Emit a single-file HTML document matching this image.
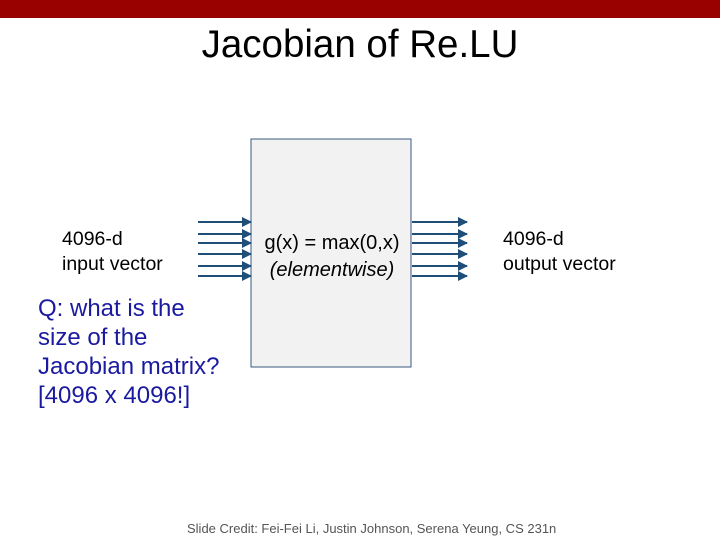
<!DOCTYPE html>
<html><head><style>
body{margin:0;width:720px;height:540px;background:#fff;position:relative;overflow:hidden;font-family:"Liberation Sans",sans-serif;}
.t{position:absolute;white-space:nowrap;color:#000;}
</style></head><body>
<div style="position:absolute;left:0;top:0;width:720px;height:18px;background:#990000"></div>
<div class="t" style="left:0;width:720px;text-align:center;top:23px;font-size:38.5px">Jacobian of Re.LU</div>
<svg style="position:absolute;left:0;top:0" width="720" height="540">
<defs><marker id="a" markerWidth="10" markerHeight="10" refX="9" refY="5" orient="auto" markerUnits="userSpaceOnUse"><path d="M0,0 L10,5 L0,10 z" fill="#1f4e79"/></marker></defs>
<rect x="251" y="139" width="160" height="228" fill="#f2f2f2" stroke="#3a5a7f" stroke-width="1"/>
<g stroke="#1f4e79" stroke-width="2" marker-end="url(#a)">
<line x1="198" y1="222" x2="251" y2="222"/><line x1="198" y1="234" x2="251" y2="234"/><line x1="198" y1="243" x2="251" y2="243"/><line x1="198" y1="254" x2="251" y2="254"/><line x1="198" y1="266" x2="251" y2="266"/><line x1="198" y1="276" x2="251" y2="276"/>
<line x1="412" y1="222" x2="467" y2="222"/><line x1="412" y1="234" x2="467" y2="234"/><line x1="412" y1="243" x2="467" y2="243"/><line x1="412" y1="254" x2="467" y2="254"/><line x1="412" y1="266" x2="467" y2="266"/><line x1="412" y1="276" x2="467" y2="276"/>
</g></svg>
<div class="t" style="left:62px;top:227px;font-size:19.5px;line-height:25px">4096-d<br>input vector</div>
<div class="t" style="left:256px;top:230px;font-size:20px;line-height:27px;text-align:center;width:152px">g(x) = max(0,x)<br><i>(elementwise)</i></div>
<div class="t" style="left:503px;top:227px;font-size:19.5px;line-height:25px">4096-d<br>output vector</div>
<div class="t" style="left:38px;top:294px;font-size:24px;line-height:29px;color:#1a1aa0">Q: what is the<br>size of the<br>Jacobian matrix?<br>[4096 x 4096!]</div>
<div class="t" style="left:187px;top:521px;font-size:13px;color:#555">Slide Credit: Fei-Fei Li, Justin Johnson, Serena Yeung, CS 231n</div>
</body></html>
